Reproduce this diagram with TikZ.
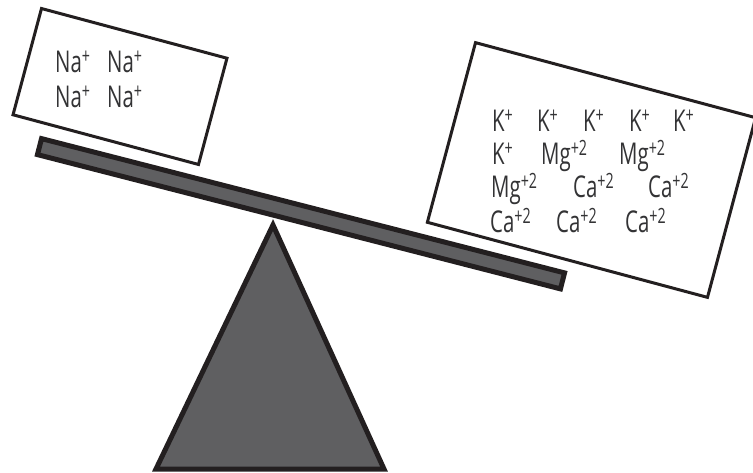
\documentclass[tikz,border=0pt]{standalone}
\usepackage{fontspec}
\setmainfont{Open Sans}[FakeStretch=0.68]
\usetikzlibrary{positioning}

\definecolor{beamgray}{HTML}{5F5F61}
\definecolor{inkblack}{HTML}{231F20}
\definecolor{ioncol}{HTML}{333335}

\newcommand{\ionlabel}[2]{#1\textsuperscript{#2}}

\begin{document}
\begin{tikzpicture}[
    x=1pt,
    y=1pt,
    fulcrum/.style={
        draw=inkblack,
        line width=5pt,
        line join=miter,
        fill=beamgray
    },
    beam/.style={
        draw=inkblack,
        line width=5pt,
        fill=beamgray,
        rotate=-14.4,
        minimum width=540pt,
        minimum height=16.5pt,
        inner sep=0pt
    },
    box/.style={
        draw=inkblack,
        line width=3pt,
        fill=white,
        rotate=-15,
        inner sep=0pt
    },
    ion/.style={
        anchor=base west,
        inner sep=0pt,
        text=ioncol,
        font=\fontsize{30}{33}\selectfont
    }
]
\useasboundingbox (0,0) rectangle (753,472);

% fulcrum and beam
\coordinate (pivot) at (273,247);
\draw[fulcrum] (156,3) -- (pivot) -- (384,3) -- cycle;
\node[beam] (lever) at (301,258.25) {};

% the two loads
\node[box, minimum width=192pt, minimum height=110pt] (sodium) at (120,385.5) {};
\node[box, minimum width=290pt, minimum height=186pt] (others) at (591.5,302) {};

% ions on the left
\foreach \x/\y [count=\i] in {55/399, 107/399, 55/364, 107/364}
    \node[ion] (na\i) at (\x,\y) {\ionlabel{Na}{+}};

% ions on the right
\foreach \x/\y [count=\i] in {492/340, 537/340, 583/340, 629/340, 673/340, 492/307}
    \node[ion] (k\i) at (\x,\y) {\ionlabel{K}{+}};
\foreach \x/\y [count=\i] in {541/307, 619/307, 491/274}
    \node[ion] (mg\i) at (\x,\y) {\ionlabel{Mg}{+2}};
\foreach \x/\y [count=\i] in {573/274, 648/274, 490/239, 556/239, 625/239}
    \node[ion] (ca\i) at (\x,\y) {\ionlabel{Ca}{+2}};

\end{tikzpicture}
\end{document}
